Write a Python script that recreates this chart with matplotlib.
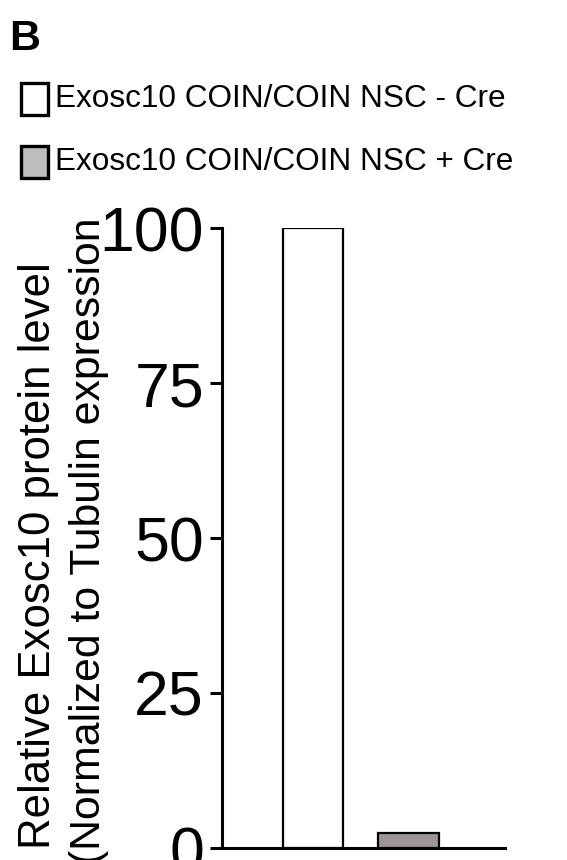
import matplotlib
matplotlib.use("Agg")
import matplotlib.pyplot as plt
from matplotlib.patches import Rectangle

plt.rcParams['font.family'] = ['Liberation Sans', 'DejaVu Sans']

# Data
groups = ["Exosc10 COIN/COIN NSC - Cre", "Exosc10 COIN/COIN NSC + Cre"]
values = [100.0, 2.5]
bar_colors = ["#ffffff", "#9d9597"]
legend_colors = ["#ffffff", "#bdbdbd"]
yticks = [0, 25, 50, 75, 100]
ylabel_lines = ["Relative Exosc10 protein level", "(Normalized to Tubulin expression"]

W, H = 567, 860
fig = plt.figure(figsize=(W / 100, H / 100), dpi=100)

# Axes placed in pixel terms: left 222, right 505, top 228, bottom 848
ax = fig.add_axes([222 / W, 1 - 848 / H, (505 - 222) / W, (848 - 228) / H])
x = [0, 1]
ax.bar(x, values, width=0.63, color=bar_colors, edgecolor="black", linewidth=1.6, zorder=3)
ax.set_xlim(-0.953, 2.01)
ax.set_ylim(0, 100)
ax.set_yticks(yticks)
ax.set_yticklabels([str(t) for t in yticks], fontsize=45)
ax.tick_params(axis='y', length=9, width=2.2, pad=4)
ax.set_xticks([])
for s in ["top", "right"]:
    ax.spines[s].set_visible(False)
for s in ["left", "bottom"]:
    ax.spines[s].set_linewidth(2.2)

# Two-line y-axis title, each line placed by its baseline
for line, bx, cy, fs in zip(ylabel_lines, [50, 100], [556, 541], [31.5, 30.8]):
    fig.text(bx / W, 1 - cy / H, line, fontsize=fs, rotation=90,
             rotation_mode="anchor", ha="center", va="baseline")

# Panel letter
fig.text(9 / W, 1 - 50 / H, "B", fontsize=31, fontweight="bold", ha="left", va="baseline")

# Legend drawn in figure pixels
rows_y = [99, 162]
for label, fc, cy in zip(groups, legend_colors, rows_y):
    fig.patches.append(Rectangle((21 / W, 1 - (cy + 16) / H), 27 / W, 32 / H,
                                 transform=fig.transFigure, facecolor=fc,
                                 edgecolor="black", linewidth=2.4))
    fig.text(55 / W, 1 - cy / H, label, fontsize=22.7, ha="left", va="center")

fig.savefig("out.png", dpi=100)
